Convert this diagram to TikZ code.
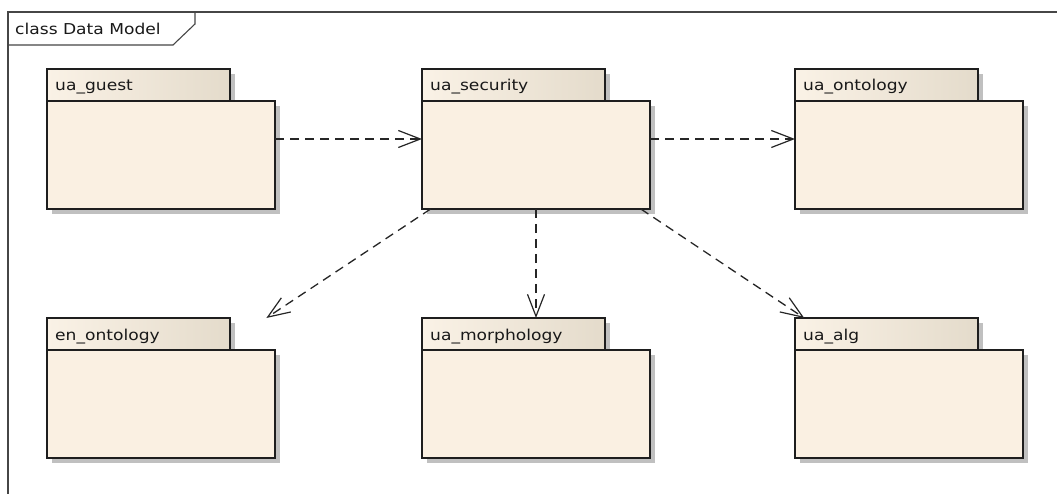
\documentclass[tikz,border=0pt]{standalone}
\usepackage{fontspec}
\setmainfont{DejaVu Sans}[FakeStretch=1.14]
\usetikzlibrary{arrows.meta,shadows,fit}

\definecolor{pkgbody}{RGB}{250,240,226}
\definecolor{tableft}{RGB}{250,242,230}
\definecolor{tabright}{RGB}{228,219,203}
\definecolor{pkgline}{RGB}{30,30,30}
\definecolor{framegray}{RGB}{70,70,70}
\definecolor{shadowgray}{RGB}{192,192,192}

\tikzset{
  pkgshadow/.style={drop shadow={shadow xshift=5pt, shadow yshift=-5pt, fill=shadowgray, opacity=1}},
  pkgbox/.style={draw=pkgline, line width=1.6pt, fill=pkgbody, anchor=north west,
    minimum width=228pt, minimum height=108pt, inner sep=0pt, outer sep=0pt, pkgshadow},
  pkgtab/.style={draw=pkgline, line width=1.6pt, left color=tableft, right color=tabright,
    anchor=north west, minimum width=183pt, minimum height=32pt, inner sep=0pt, outer sep=0pt, pkgshadow},
  captionfont/.style={font=\fontsize{15}{17}\selectfont, text=black!90},
  pkglabel/.style={anchor=base west, inner sep=0pt, captionfont},
  pkgarea/.style={inner sep=0pt, outer sep=0pt},
  dep/.style={draw=black!85, line width=1.3pt, dash pattern=on 9pt off 6pt,
    -{Straight Barb[length=22pt,width=17pt,line width=1.2pt]}},
}

% a UML package: name, left x, top y, caption
\newcommand{\umlpkg}[4]{%
  \node[pkgtab] (#1-tab) at (#2,#3) {};
  \node[pkgbox] (#1-body) at (#2,#3+32) {};
  \node[pkglabel] (#1-name) at (#2+8,#3+22) {#4};
  \node[pkgarea, fit=(#1-tab)(#1-body)] (#1) {};
}

\begin{document}
\begin{tikzpicture}[x=1pt,y=-1pt]
  \useasboundingbox[fill=white] (0,0) rectangle (1057,494);

  % diagram frame with its name tag
  \draw[framegray, line width=1.6pt] (8,500) -- (8,12) -- (1060,12);
  \draw[framegray, line width=1.1pt] (8,45) -- (173,45) -- (195,24) -- (195,12);
  \node[anchor=base west, inner sep=0pt, captionfont] (frametitle) at (15,35) {class Data Model};

  % packages
  \umlpkg{guest}{47}{69}{ua\_guest}
  \umlpkg{security}{422}{69}{ua\_security}
  \umlpkg{ontology}{795}{69}{ua\_ontology}
  \umlpkg{enontology}{47}{318}{en\_ontology}
  \umlpkg{morphology}{422}{318}{ua\_morphology}
  \umlpkg{alg}{795}{318}{ua\_alg}

  % dependencies
  \draw[dep] (guest) -- (security);
  \draw[dep] (security) -- (ontology);
  \draw[dep] (security) -- (enontology);
  \draw[dep] (security) -- (morphology);
  \draw[dep] (security) -- (alg);
\end{tikzpicture}
\end{document}
